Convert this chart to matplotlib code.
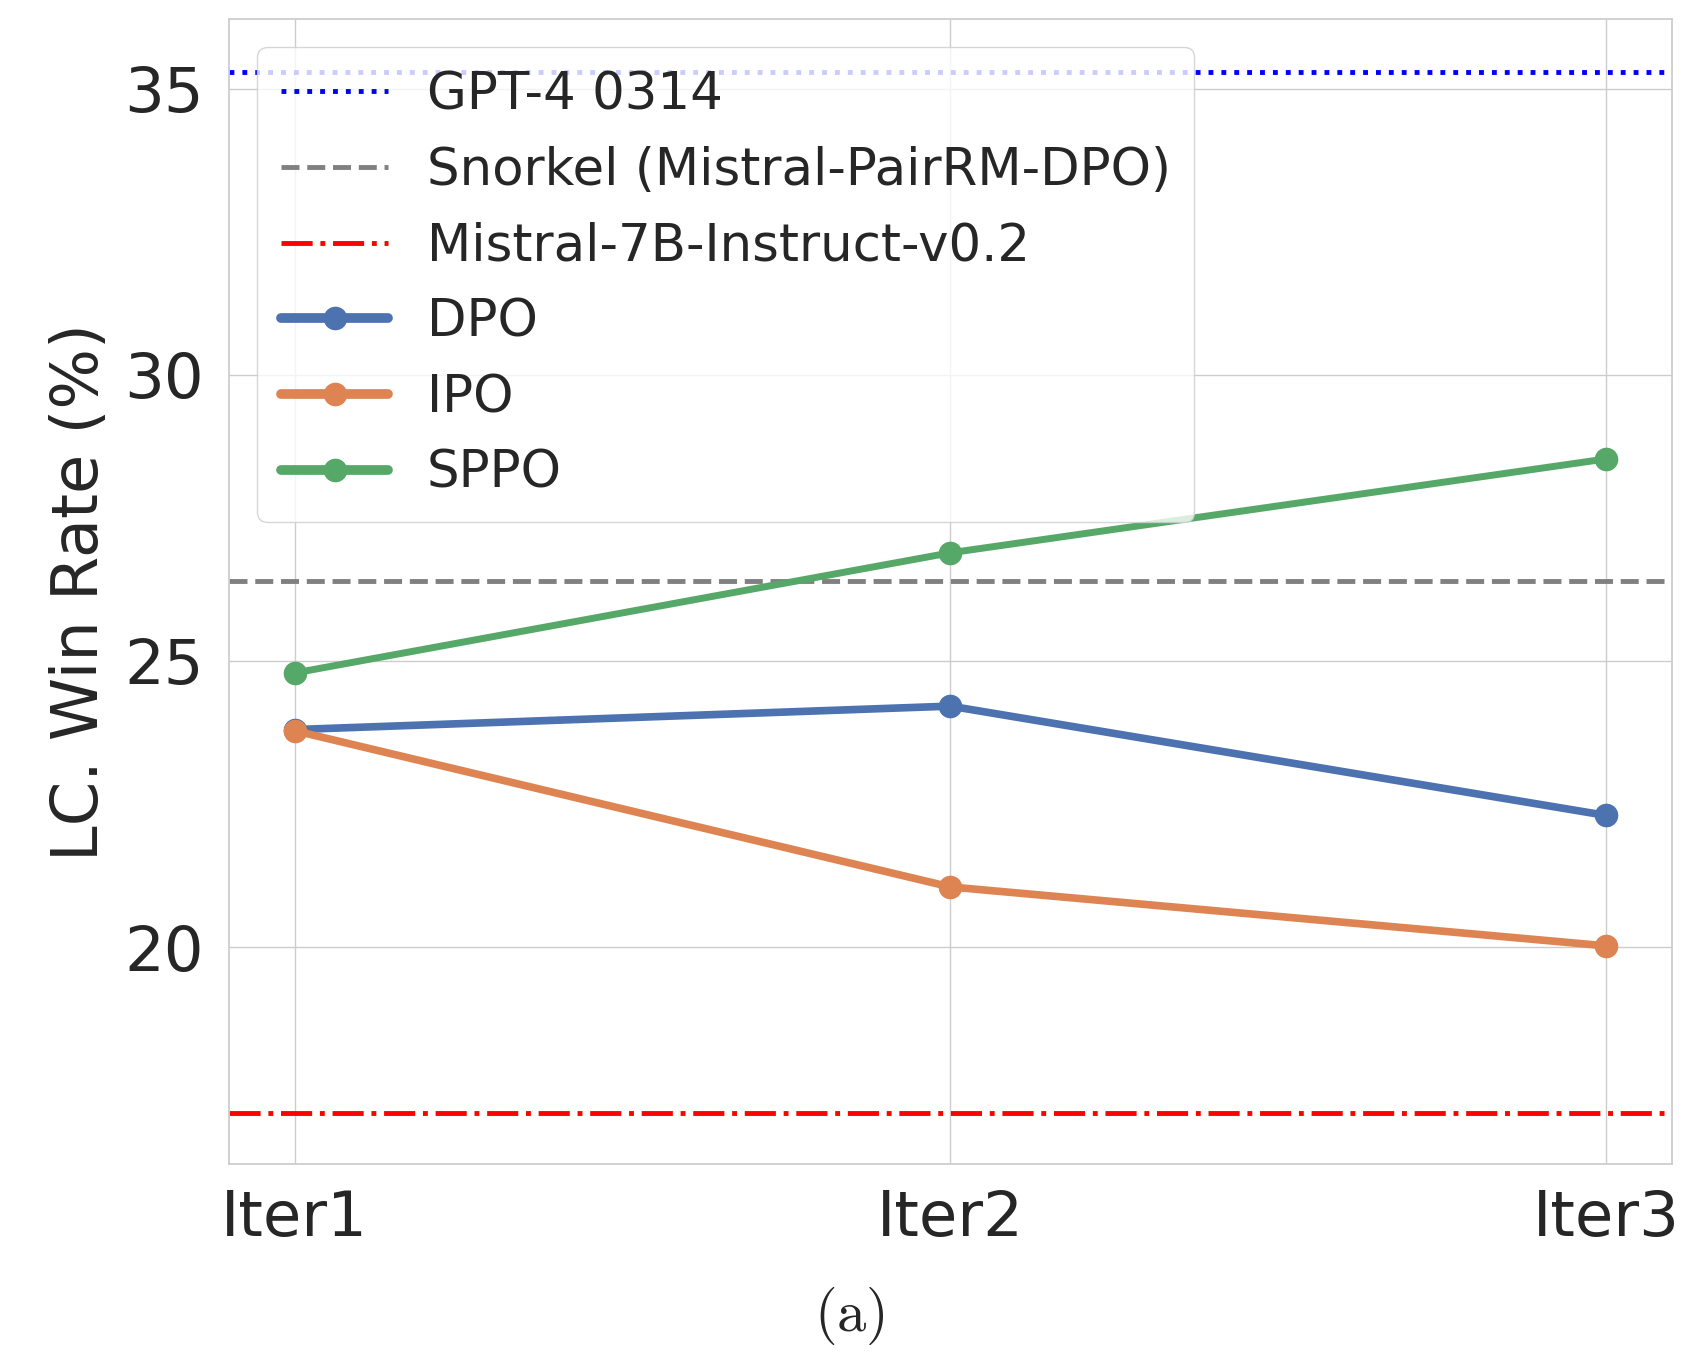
import matplotlib
matplotlib.use('Agg')
import matplotlib.pyplot as plt
import seaborn as sns

iters = ['Iter1', 'Iter2', 'Iter3']
dpo = [23.8, 24.21, 22.3]
ipo = [23.78, 21.05, 20.02]
sppo = [24.79, 26.89, 28.53]
gpt4 = 35.3
snorkel = 26.4
mistral = 17.1

sns.set_theme(style='whitegrid')
plt.rcParams['font.family'] = ['DejaVu Sans']
plt.rcParams['mathtext.fontset'] = 'cm'

fig = plt.figure(figsize=(16.85, 13.54), dpi=100)
ax = fig.add_axes([0.136, 0.140, 0.856, 0.846])

x = list(range(len(iters)))
ax.axhline(gpt4, color='blue', linestyle=':', linewidth=3.5, label='GPT-4 0314')
ax.axhline(snorkel, color='gray', linestyle='--', linewidth=3.5, label='Snorkel (Mistral-PairRM-DPO)')
ax.axhline(mistral, color='red', linestyle='-.', linewidth=3.5, label='Mistral-7B-Instruct-v0.2')

pal = sns.color_palette('deep')
ax.plot(x, dpo, color=pal[0], marker='o', markersize=16, linewidth=5.5, label='DPO')
ax.plot(x, ipo, color=pal[1], marker='o', markersize=16, linewidth=5.5, label='IPO')
ax.plot(x, sppo, color=pal[2], marker='o', markersize=16, linewidth=5, label='SPPO')

ax.set_xticks(x)
ax.set_xticklabels(iters)
ax.set_xlim(-0.1, 2.1)
ax.set_ylim(16.2, 36.22)
ax.set_yticks([20, 25, 30, 35])
ax.tick_params(axis='y', labelsize=45, pad=12)
ax.tick_params(axis='x', labelsize=45, pad=12)
ax.set_ylabel('LC. Win Rate (%)', fontsize=46, labelpad=10)

leg = ax.legend(loc='upper left', fontsize=37, framealpha=0.8, handlelength=2.1,
                handletextpad=0.75, labelspacing=0.5, borderpad=0.45,
                borderaxespad=0.55)
for h in leg.get_lines()[3:]:
    h.set_linewidth(7)

fig.text(0.504, 0.028, r'$\mathrm{(a)}$', fontsize=42, ha='center', va='center')

fig.savefig('out.png', dpi=100)
